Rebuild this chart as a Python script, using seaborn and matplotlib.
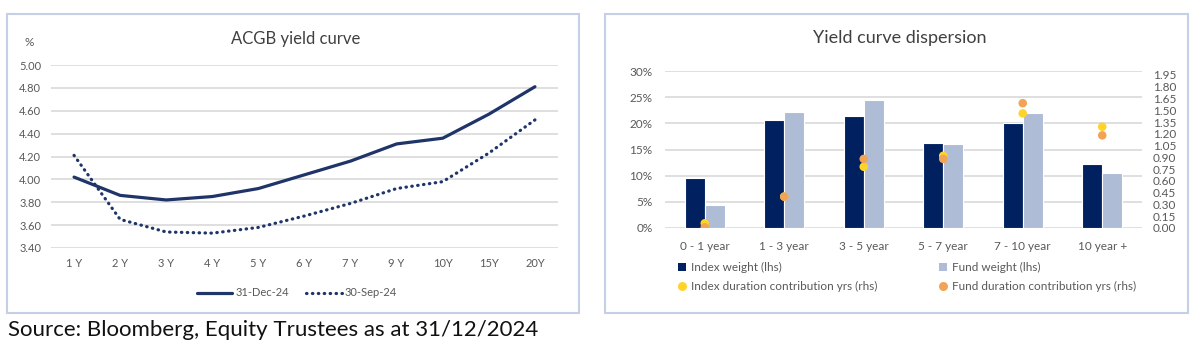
import numpy as np
import pandas as pd
import matplotlib
matplotlib.use("Agg")
import matplotlib.pyplot as plt
from matplotlib.patches import Rectangle
from matplotlib.lines import Line2D
from matplotlib.patches import Patch
import seaborn as sns

# ---------------- data ----------------
tenors = ["1 Y", "2 Y", "3 Y", "4 Y", "5 Y", "6 Y", "7 Y", "9 Y", "10Y", "15Y", "20Y"]
yield_dec24 = [4.02, 3.86, 3.82, 3.85, 3.92, 4.04, 4.16, 4.31, 4.36, 4.57, 4.81]
yield_sep24 = [4.21, 3.65, 3.54, 3.53, 3.58, 3.68, 3.79, 3.92, 3.98, 4.23, 4.52]
yield_ticks = [3.40, 3.60, 3.80, 4.00, 4.20, 4.40, 4.60, 4.80, 5.00]

buckets = ["0 - 1 year", "1 - 3 year", "3 - 5 year", "5 - 7 year", "7 - 10 year", "10 year +"]
index_weight = [9.5, 20.7, 21.4, 16.3, 20.0, 12.3]
fund_weight = [4.4, 22.2, 24.4, 16.1, 22.0, 10.6]
index_duration = [0.06, 0.40, 0.78, 0.92, 1.46, 1.29]
fund_duration = [0.01, 0.40, 0.88, 0.88, 1.59, 1.18]
weight_ticks = [0, 5, 10, 15, 20, 25, 30]
duration_ticks = [0.00, 0.15, 0.30, 0.45, 0.60, 0.75, 0.90, 1.05, 1.20, 1.35, 1.50, 1.65, 1.80, 1.95]

# ---------------- style ----------------
sns.set_style("white")
plt.rcParams["font.family"] = ["Lato", "DejaVu Sans"]

NAVY_LINE = "#1F3468"
NAVY = "#002060"
LIGHT = "#AFBCD6"
YELLOW = "#FFD42A"
ORANGE = "#F2A456"
GRID = "#D9D9D9"
TICK = "#595959"
TITLE = "#404040"
BOX = "#C5D0E6"

W, H = 1200, 363
fig = plt.figure(figsize=(12, 3.63), dpi=100)

def fx(x):
    return x / W

def fy(y):
    return 1 - y / H

# panel boxes
for (x0, y0, x1, y1) in [(7, 14, 579, 313), (605, 14, 1188, 313)]:
    fig.add_artist(Rectangle((fx(x0), fy(y1)), fx(x1 - x0), (y1 - y0) / H,
                             transform=fig.transFigure, fill=False,
                             edgecolor=BOX, linewidth=1.5))

# ---------------- left: yield curve ----------------
ax1 = fig.add_axes([fx(51), fy(248), fx(558 - 51), (248 - 65) / H])
df_y = pd.DataFrame({"tenor": tenors, "dec": yield_dec24, "sep": yield_sep24})
sns.lineplot(data=df_y, x="tenor", y="dec", sort=False, ax=ax1,
             color=NAVY_LINE, linewidth=2.3, solid_capstyle="round")
sns.lineplot(data=df_y, x="tenor", y="sep", sort=False, ax=ax1,
             color=NAVY_LINE, linewidth=2.3)
ln = ax1.get_lines()[-1]
ln.set_dashes((0.15, 1.7))
ln.set_dash_capstyle("round")

ax1.set_ylim(3.40, 5.00)
ax1.set_xlim(-0.5, len(tenors) - 0.5)
ax1.set_yticks(yield_ticks)
ax1.set_yticklabels([f"{v:.2f}" for v in yield_ticks])
ax1.yaxis.grid(True, color=GRID, linewidth=1.2)
ax1.set_axisbelow(True)
for s in ax1.spines.values():
    s.set_visible(False)
ax1.tick_params(axis="both", length=0, labelsize=8, labelcolor=TICK)
ax1.tick_params(axis="y", pad=7)
ax1.tick_params(axis="x", pad=7)
ax1.set_xlabel("")
ax1.set_ylabel("")

fig.text(fx(296), fy(39), "ACGB yield curve", ha="center", va="center",
         fontsize=12, color=TITLE)
fig.text(fx(29), fy(43), "%", ha="center", va="center", fontsize=8.5, color=TICK)

h_solid = Line2D([], [], color=NAVY_LINE, linewidth=2.3)
h_dot = Line2D([], [], color=NAVY_LINE, linewidth=2.3, dashes=(0.15, 1.7),
               dash_capstyle="round")
fig.legend([h_solid, h_dot], ["31-Dec-24", "30-Sep-24"], loc="center",
           bbox_to_anchor=(fx(297), fy(293)), ncol=2, frameon=False,
           fontsize=8, labelcolor=TICK, handlelength=3.2, handletextpad=0.3,
           columnspacing=1.5)

# ---------------- right: dispersion ----------------
ax2 = fig.add_axes([fx(665), fy(228), fx(1142 - 665), (228 - 71) / H])
df_w = pd.DataFrame({
    "bucket": buckets * 2,
    "weight": index_weight + fund_weight,
    "series": ["Index weight (lhs)"] * len(buckets) + ["Fund weight (lhs)"] * len(buckets),
})
sns.barplot(data=df_w, x="bucket", y="weight", hue="series", order=buckets,
            palette=[NAVY, LIGHT], width=0.5, ax=ax2, legend=False,
            edgecolor="white", linewidth=0.8, saturation=1)
ax2.set_ylim(0, 30)
ax2.set_xlim(-0.5, len(buckets) - 0.5)
ax2.set_yticks(weight_ticks)
ax2.set_yticklabels([f"{v}%" for v in weight_ticks])
ax2.yaxis.grid(True, color=GRID, linewidth=1.2)
ax2.set_axisbelow(True)
for s in ax2.spines.values():
    s.set_visible(False)
ax2.tick_params(axis="both", length=0, labelsize=8.5, labelcolor=TICK)
ax2.tick_params(axis="y", pad=9)
ax2.tick_params(axis="x", pad=9)
ax2.set_xlabel("")
ax2.set_ylabel("")

ax2r = ax2.twinx()
pos = np.arange(len(buckets))
sns.scatterplot(x=pos, y=index_duration, ax=ax2r, color=YELLOW, s=38,
                edgecolor="none", zorder=3)
sns.scatterplot(x=pos, y=fund_duration, ax=ax2r, color=ORANGE, s=38,
                edgecolor="none", zorder=4)
ax2r.set_ylim(0, 2.0)
ax2r.set_xlim(-0.5, len(buckets) - 0.5)
ax2r.set_yticks(duration_ticks)
ax2r.set_yticklabels([f"{v:.2f}" for v in duration_ticks])
for s in ax2r.spines.values():
    s.set_visible(False)
ax2r.tick_params(axis="both", length=0, labelsize=8.5, labelcolor=TICK, pad=8)
ax2r.set_ylabel("")
ax2r.grid(False)

fig.text(fx(900), fy(38), "Yield curve dispersion", ha="center", va="center",
         fontsize=13, color=TITLE)

h_iw = Patch(facecolor=NAVY, edgecolor="none")
h_fw = Patch(facecolor=LIGHT, edgecolor="none")
h_id = Line2D([], [], linestyle="none", marker="o", markersize=6.5,
              markerfacecolor=YELLOW, markeredgecolor="none")
h_fd = Line2D([], [], linestyle="none", marker="o", markersize=6.5,
              markerfacecolor=ORANGE, markeredgecolor="none")
fig.legend([h_iw, h_id, h_fw, h_fd],
           ["Index weight (lhs)", "Index duration contribution yrs (rhs)",
            "Fund weight (lhs)", "Fund duration contribution yrs (rhs)"],
           loc="upper left", bbox_to_anchor=(fx(678), fy(262)), ncol=2,
           frameon=False, fontsize=8.5, labelcolor=TICK, handlelength=0.7,
           handleheight=0.7, handletextpad=0.4, columnspacing=5.2,
           labelspacing=0.65, borderaxespad=0, borderpad=0)

# ---------------- source ----------------
fig.text(fx(8), fy(330), "Source: Bloomberg, Equity Trustees as at 31/12/2024",
         ha="left", va="center", fontsize=16, color="#111111")

fig.savefig("out.png", dpi=100, facecolor="white")
